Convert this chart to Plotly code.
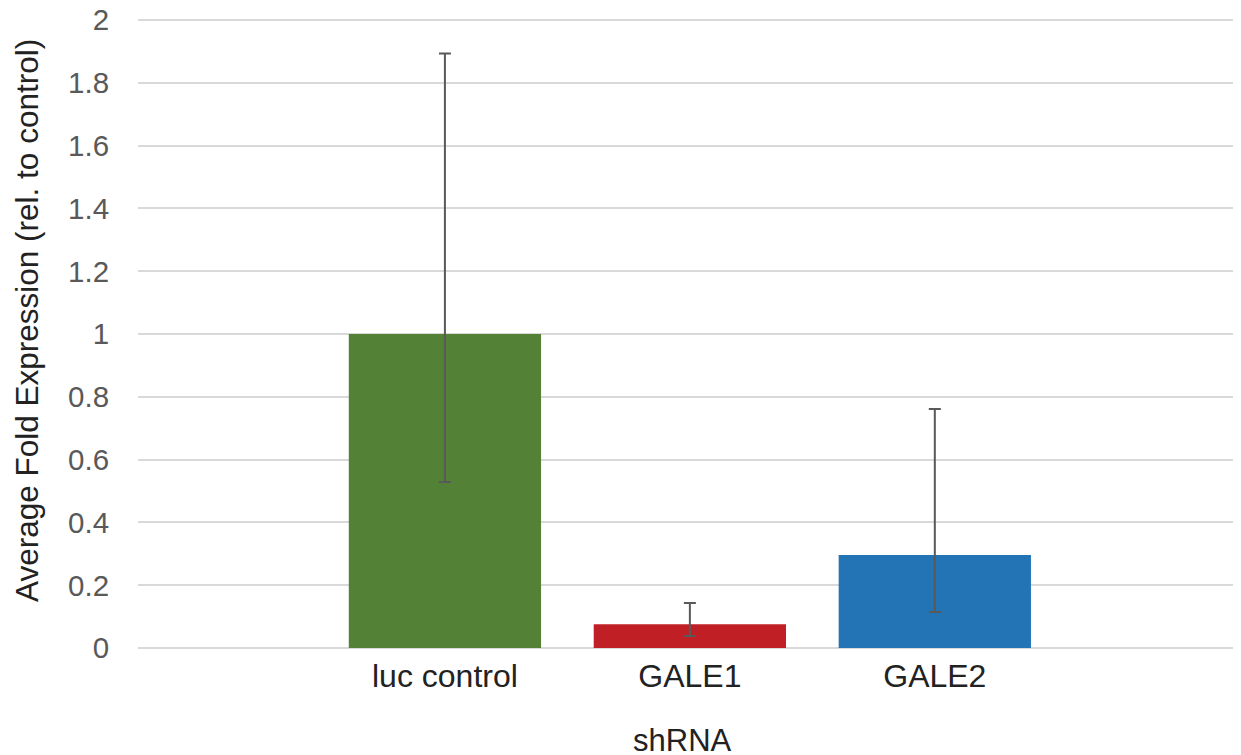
import plotly.graph_objects as go

categories = ["luc control", "GALE1", "GALE2"]
values = [1.0, 0.076, 0.296]
err_plus = [0.893, 0.067, 0.465]
err_minus = [0.471, 0.038, 0.181]
colors = ["#538135", "#C11F26", "#2274B5"]
y_ticks = [0, 0.2, 0.4, 0.6, 0.8, 1, 1.2, 1.4, 1.6, 1.8, 2]
y_tick_text = ["0", "0.2", "0.4", "0.6", "0.8", "1", "1.2", "1.4", "1.6", "1.8", "2"]
x_title = "shRNA"
y_title = "Average Fold Expression (rel. to control)"

fig = go.Figure(go.Bar(
    x=categories, y=values,
    marker=dict(color=colors, line=dict(width=0)),
    width=0.785,
    error_y=dict(type="data", symmetric=False, array=err_plus, arrayminus=err_minus,
                 color="#595959", thickness=2, width=6),
))

fig.update_layout(
    width=1241, height=755,
    margin=dict(l=130, r=8, t=10, b=115),
    paper_bgcolor="white", plot_bgcolor="white",
    font=dict(family="Liberation Sans, Arial, sans-serif", color="#222222"),
    showlegend=False,
    xaxis=dict(
        range=[-1.253, 3.25], automargin=False,
        showgrid=False, showline=False, zeroline=False,
        tickfont=dict(size=32, color="#222222"),
        ticks="outside", ticklen=0, tickcolor="rgba(0,0,0,0)",
    ),
    yaxis=dict(
        range=[0, 2.0064], tickvals=y_ticks, ticktext=y_tick_text, automargin=False,
        showgrid=True, gridcolor="#D9D9D9", gridwidth=2,
        zeroline=True, zerolinecolor="#D9D9D9", zerolinewidth=2,
        tickfont=dict(size=29.5, color="#595959"),
        ticks="outside", ticklen=22, tickcolor="rgba(0,0,0,0)",
        ticklabeloverflow="allow",
    ),
    annotations=[
        dict(text=x_title, xref="paper", yref="paper", x=(682 - 138) / 1103, y=-92 / 630,
             xanchor="center", yanchor="middle", showarrow=False,
             font=dict(size=31, color="#222222")),
        dict(text=y_title, xref="paper", yref="paper", x=(27 - 138) / 1103, y=(648 - 321) / 630,
             xanchor="center", yanchor="middle", textangle=-90, showarrow=False,
             font=dict(size=31.5, color="#222222")),
    ],
)

fig.write_html("out.html")
